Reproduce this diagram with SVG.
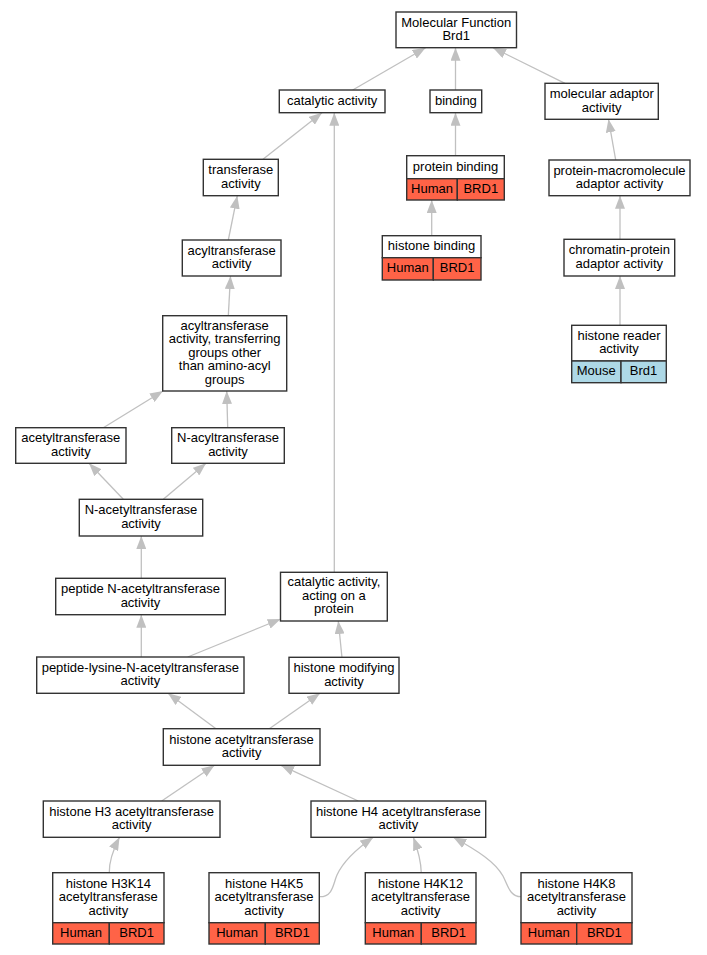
<svg xmlns="http://www.w3.org/2000/svg" width="707" height="955" viewBox="0 0 707 955">
<style>
text{font-family:"Liberation Sans",Arial,sans-serif;font-size:13px;text-anchor:middle;fill:#000}
.b{fill:#fff;stroke:#333;stroke-width:1.4}
.hu{fill:#ff6347;stroke:#333;stroke-width:1.4}
.mo{fill:#add8e6;stroke:#333;stroke-width:1.4}
#edges path{fill:none;stroke:#c0c0c0;stroke-width:1.3;marker-end:url(#arr)}
</style>
<defs>
<marker id="arr" markerUnits="userSpaceOnUse" markerWidth="13" markerHeight="10" refX="13" refY="5" orient="auto">
<path d="M0,0 L13,5 L0,10 Z" fill="#c0c0c0"/>
</marker>
</defs>
<rect width="707" height="955" fill="#fff"/>
<g id="edges">
<path d="M352.7,90 L425.6,47.7"/>
<path d="M455.5,90 L455.5,47.7"/>
<path d="M565,83.3 L493,47.7"/>
<path d="M263,159.3 L322,112.7"/>
<path d="M334.3,572.3 L334.3,112.7"/>
<path d="M455.5,155.7 L455.5,112.7"/>
<path d="M431.7,235.7 L431.7,200"/>
<path d="M615.7,160 L608.5,119.3"/>
<path d="M620,239.3 L620,195.7"/>
<path d="M620,325.3 L620,276"/>
<path d="M228.3,240 L237.3,195.7"/>
<path d="M228.3,315.7 L230.5,276"/>
<path d="M103.3,427.7 L163,391"/>
<path d="M227.7,427.7 L226.7,391"/>
<path d="M123.3,499.3 L89,463.3"/>
<path d="M163.3,499.3 L206,463.3"/>
<path d="M141.3,578.3 L141.3,536"/>
<path d="M141.3,657 L141.3,614.7"/>
<path d="M187.7,657 L280.7,619"/>
<path d="M342,657.7 L338.3,621"/>
<path d="M216,728.7 L168,693.3"/>
<path d="M269.3,728.7 L320,693.3"/>
<path d="M161.7,801 L214.5,765.3"/>
<path d="M358.3,801 L281,765.3"/>
<path d="M109.3,872.7 C109,862 112,852 119.5,837.3"/>
<path d="M320,896.7 C333,896.7 333,884 337,875 C343,862 355,850 373.3,837.3"/>
<path d="M421.3,873 C421,862 418,850 413.3,837.3"/>
<path d="M521,896.7 C510,896.7 508,886 503,876 C495,862 478,851 453.3,837.3"/>
</g>
<g id="mf"><rect class="b" x="396" y="12" width="120.5" height="35.7"/><text x="456.2" y="26.6">Molecular Function</text><text x="456.2" y="40.1">Brd1</text></g>
<g id="catalytic"><rect class="b" x="279.3" y="90" width="105.7" height="22.7"/><text x="332.1" y="104.9">catalytic activity</text></g>
<g id="binding"><rect class="b" x="430" y="90" width="51.7" height="22.7"/><text x="455.9" y="104.9">binding</text></g>
<g id="molad"><rect class="b" x="545" y="83.3" width="113.3" height="36"/><text x="601.7" y="98">molecular adaptor</text><text x="601.7" y="111.5">activity</text></g>
<g id="transferase"><rect class="b" x="203.3" y="159.3" width="75" height="36.4"/><text x="240.8" y="174.2">transferase</text><text x="240.8" y="187.7">activity</text></g>
<g id="protbind"><rect class="b" x="406.7" y="155.7" width="97.6" height="23"/><rect class="hu" x="406.7" y="178.7" width="50.6" height="21.3"/><rect class="hu" x="457.3" y="178.7" width="47" height="21.3"/><text x="455.5" y="170.7">protein binding</text><text x="432" y="192.9">Human</text><text x="480.8" y="192.9">BRD1</text></g>
<g id="protmacro"><rect class="b" x="549" y="160" width="141" height="35.7"/><text x="619.5" y="174.6">protein-macromolecule</text><text x="619.5" y="188.1">adaptor activity</text></g>
<g id="acyl"><rect class="b" x="182.3" y="240" width="98.7" height="36"/><text x="231.6" y="254.7">acyltransferase</text><text x="231.6" y="268.2">activity</text></g>
<g id="histbind"><rect class="b" x="382.3" y="235.7" width="98.7" height="22"/><rect class="hu" x="382.3" y="257.7" width="51" height="22.3"/><rect class="hu" x="433.3" y="257.7" width="47.7" height="22.3"/><text x="431.6" y="250.2">histone binding</text><text x="407.8" y="272.4">Human</text><text x="457.1" y="272.4">BRD1</text></g>
<g id="chromatin"><rect class="b" x="564" y="239.3" width="110.7" height="36.7"/><text x="619.3" y="254.4">chromatin-protein</text><text x="619.3" y="267.9">adaptor activity</text></g>
<g id="acyltr"><rect class="b" x="162.7" y="315.7" width="124" height="75.3"/><text x="224.7" y="329.8">acyltransferase</text><text x="224.7" y="343.3">activity, transferring</text><text x="224.7" y="356.8">groups other</text><text x="224.7" y="370.3">than amino-acyl</text><text x="224.7" y="383.8">groups</text></g>
<g id="reader"><rect class="b" x="571.7" y="325.3" width="94.6" height="35.7"/><rect class="mo" x="571.7" y="361" width="49.3" height="21.7"/><rect class="mo" x="621" y="361" width="45.3" height="21.7"/><text x="619" y="339.9">histone reader</text><text x="619" y="353.4">activity</text><text x="596.3" y="375.3">Mouse</text><text x="643.6" y="375.3">Brd1</text></g>
<g id="acetyl"><rect class="b" x="15.7" y="427.7" width="110.3" height="35.6"/><text x="70.8" y="442.2">acetyltransferase</text><text x="70.8" y="455.7">activity</text></g>
<g id="nacyl"><rect class="b" x="171.7" y="427.7" width="112.6" height="35.6"/><text x="228" y="442.2">N-acyltransferase</text><text x="228" y="455.7">activity</text></g>
<g id="nacetyl"><rect class="b" x="79.3" y="499.3" width="123.4" height="36.7"/><text x="141" y="514.4">N-acetyltransferase</text><text x="141" y="527.9">activity</text></g>
<g id="pepn"><rect class="b" x="55.7" y="578.3" width="169.6" height="36.4"/><text x="140.5" y="593.2">peptide N-acetyltransferase</text><text x="140.5" y="606.7">activity</text></g>
<g id="catacting"><rect class="b" x="280.5" y="572.3" width="106.8" height="48.7"/><text x="333.9" y="586.4">catalytic activity,</text><text x="333.9" y="599.9">acting on a</text><text x="333.9" y="613.4">protein</text></g>
<g id="peplys"><rect class="b" x="36.7" y="657" width="207.3" height="36.3"/><text x="140.3" y="671.9">peptide-lysine-N-acetyltransferase</text><text x="140.3" y="685.4">activity</text></g>
<g id="histmod"><rect class="b" x="289" y="657.3" width="110" height="36"/><text x="344" y="672">histone modifying</text><text x="344" y="685.5">activity</text></g>
<g id="histacet"><rect class="b" x="163.3" y="728.7" width="156.7" height="36.6"/><text x="241.6" y="743.7">histone acetyltransferase</text><text x="241.6" y="757.2">activity</text></g>
<g id="h3"><rect class="b" x="43.3" y="801" width="176.7" height="36.3"/><text x="131.6" y="815.9">histone H3 acetyltransferase</text><text x="131.6" y="829.4">activity</text></g>
<g id="h4"><rect class="b" x="311" y="801" width="174.7" height="36.3"/><text x="398.3" y="815.9">histone H4 acetyltransferase</text><text x="398.3" y="829.4">activity</text></g>
<g id="h3k14"><rect class="b" x="52.7" y="872.7" width="111.3" height="50"/><rect class="hu" x="52.7" y="922.7" width="56.6" height="21.3"/><rect class="hu" x="109.3" y="922.7" width="54.7" height="21.3"/><text x="108.3" y="887.5">histone H3K14</text><text x="108.3" y="901">acetyltransferase</text><text x="108.3" y="914.5">activity</text><text x="81" y="937">Human</text><text x="136.6" y="937">BRD1</text></g>
<g id="h4k5"><rect class="b" x="209" y="872.7" width="110.3" height="50"/><rect class="hu" x="209" y="922.7" width="56.3" height="21.3"/><rect class="hu" x="265.3" y="922.7" width="54" height="21.3"/><text x="264.1" y="887.5">histone H4K5</text><text x="264.1" y="901">acetyltransferase</text><text x="264.1" y="914.5">activity</text><text x="237.1" y="937">Human</text><text x="292.3" y="937">BRD1</text></g>
<g id="h4k12"><rect class="b" x="365.3" y="872.7" width="110.7" height="50"/><rect class="hu" x="365.3" y="922.7" width="56" height="21.3"/><rect class="hu" x="421.3" y="922.7" width="54.7" height="21.3"/><text x="420.6" y="887.5">histone H4K12</text><text x="420.6" y="901">acetyltransferase</text><text x="420.6" y="914.5">activity</text><text x="393.3" y="937">Human</text><text x="448.6" y="937">BRD1</text></g>
<g id="h4k8"><rect class="b" x="521" y="872.7" width="111" height="50"/><rect class="hu" x="521" y="922.7" width="55.7" height="21.3"/><rect class="hu" x="576.7" y="922.7" width="55.3" height="21.3"/><text x="576.5" y="887.5">histone H4K8</text><text x="576.5" y="901">acetyltransferase</text><text x="576.5" y="914.5">activity</text><text x="548.8" y="937">Human</text><text x="604.3" y="937">BRD1</text></g>
</svg>
